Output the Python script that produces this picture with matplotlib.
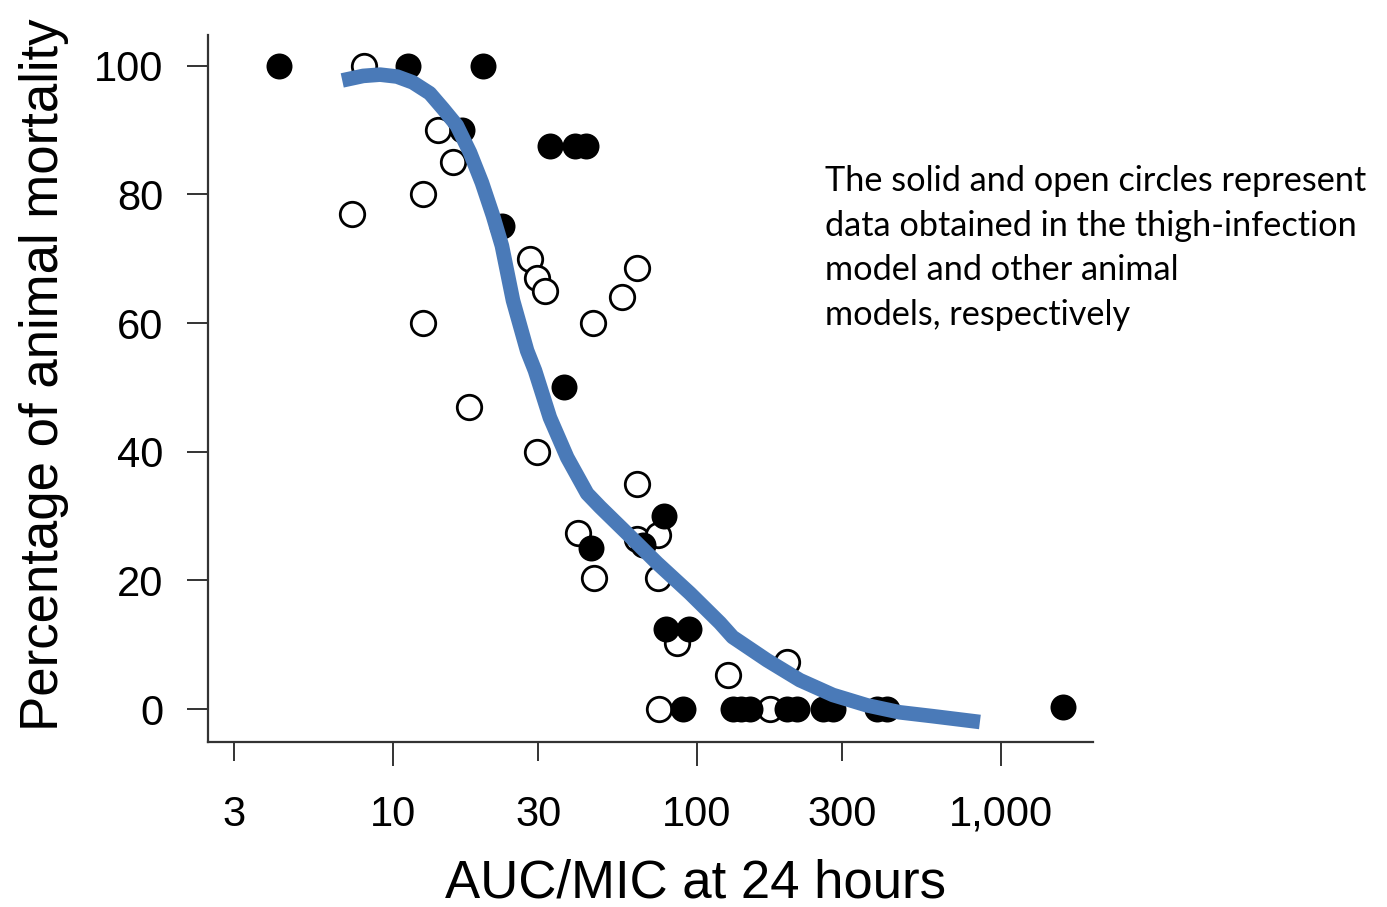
import numpy as np
import matplotlib.pyplot as plt
from matplotlib.ticker import FixedLocator, NullLocator

# thigh-infection model (solid circles)
solid_x = [4.2, 11.2, 19.8, 16.9, 32.8, 39.7, 43.2, 22.8, 36.5, 77.8, 44.8, 66.4,
           79, 94, 90, 131, 140, 149, 198, 213, 259, 280, 391, 422, 1600]
solid_y = [100, 100, 100, 90, 87.5, 87.5, 87.5, 75, 50, 30, 25, 25.5,
           12.5, 12.5, 0, 0, 0, 0, 0, 0, 0, 0, 0, 0, 0.3]

# other animal models (open circles)
open_x = [8.0, 14.1, 15.7, 12.5, 7.3, 28.2, 29.8, 31.6, 63.5, 56.6, 45.5, 12.5,
          17.8, 29.8, 63.5, 40.6, 63.5, 74.4, 45.8, 74.4, 85.9, 126, 198, 75, 174]
open_y = [100, 90, 85, 80, 77, 70, 67, 65, 68.5, 64, 60, 60,
          47, 40, 35, 27.3, 26.5, 27, 20.3, 20.3, 10.2, 5.3, 7.3, 0, 0]

# fitted curve
curve_x = [6.8, 7.97, 9.06, 10.3, 11.6, 13.2, 14.6, 16.2, 17.9, 19.6, 21.3, 22.8,
           24.8, 27.6, 29.3, 32.8, 37.4, 43.5, 48.0, 58.9, 73.9, 94.8, 119, 131,
           170, 218, 280, 362, 465, 597, 853]
curve_y = [97.7, 98.4, 98.6, 98.3, 97.4, 95.7, 93.3, 90.7, 86.5, 81.8, 76.7, 72.0,
           63.5, 55.7, 52.6, 45.3, 39.1, 33.5, 31.4, 27.3, 22.7, 18.0, 13.4, 11.2,
           7.6, 4.5, 2.2, 0.6, -0.5, -1.1, -2.0]

x_ticks = [3, 10, 30, 100, 300, 1000]
x_labels = ['3', '10', '30', '100', '300', '1,000']
y_ticks = [0, 20, 40, 60, 80, 100]

fig = plt.figure(figsize=(13.87, 9.07), dpi=100)
ax = fig.add_axes([0.15, 0.182, 0.638, 0.779])

ax.scatter(open_x, open_y, s=310, facecolor='white', edgecolor='black',
           linewidth=2, zorder=2)
ax.scatter(solid_x, solid_y, s=350, color='black', linewidth=0, zorder=3)
ax.plot(curve_x, curve_y, color='#4a7ab8', lw=10.5, solid_capstyle='butt',
        solid_joinstyle='round', zorder=4)

ax.set_xscale('log')
ax.set_xlim(2.46, 2009)
ax.set_ylim(-5.1, 104.7)

ax.xaxis.set_major_locator(FixedLocator(x_ticks))
ax.xaxis.set_minor_locator(NullLocator())
ax.set_xticks(x_ticks)
ax.set_xticklabels(x_labels)
ax.set_yticks(y_ticks)

for s in ['top', 'right']:
    ax.spines[s].set_visible(False)
for s in ['left', 'bottom']:
    ax.spines[s].set_linewidth(1.6)
    ax.spines[s].set_color('#333333')

ax.tick_params(axis='y', direction='out', length=15, width=1.4, color='#333333',
               pad=17, labelsize=30)
ax.tick_params(axis='x', direction='out', length=14, width=1.4, color='#333333',
               pad=24, labelsize=30)
# decade ticks are a little longer
for t, v in zip(ax.xaxis.get_major_ticks(), x_ticks):
    if v in (10, 100, 1000):
        t.tick1line.set_markersize(17)

for lab in ax.get_xticklabels() + ax.get_yticklabels():
    lab.set_family(['Liberation Sans', 'DejaVu Sans'])

ax.set_xlabel('AUC/MIC at 24 hours', fontsize=38,
              family=['Liberation Sans', 'DejaVu Sans'])
ax.set_ylabel('Percentage of animal mortality', fontsize=38,
              family=['Liberation Sans', 'DejaVu Sans'])
ax.xaxis.set_label_coords(0.551, -0.165)
ax.yaxis.set_label_coords(-0.157, 0.519)

fig.text(0.595, 0.818,
         'The solid and open circles represent\n'
         'data obtained in the thigh-infection\n'
         'model and other animal\n'
         'models, respectively',
         ha='left', va='top', fontsize=24.7, linespacing=1.48,
         family=['Lato', 'DejaVu Sans'])

fig.savefig('out.png', dpi=100)
